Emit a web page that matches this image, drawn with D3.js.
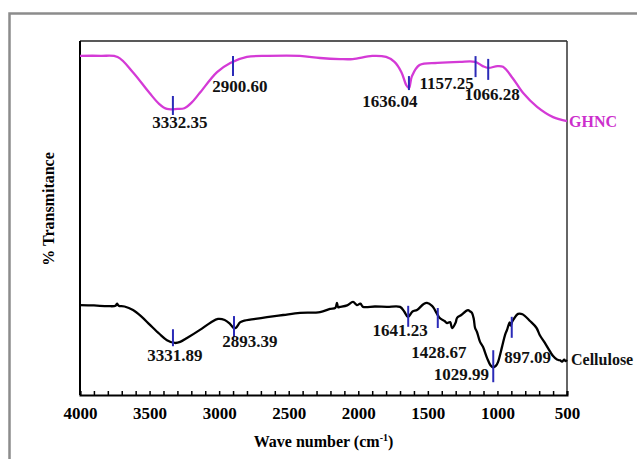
<!DOCTYPE html>
<html>
<head>
  <meta charset="utf-8">
  <title>FTIR spectra of GHNC and Cellulose</title>
  <script src="https://d3js.org/d3.v7.min.js"></script>
  <style>
    body { margin: 0; background: #fff; }
    text { font-family: "Liberation Serif", "Times New Roman", serif; font-weight: bold; }
    .line { fill: none; stroke-width: 2.3px; stroke-linejoin: round; }
  </style>
</head>
<body>
  <div id="chart"></div>

  <script>
    // x axis ticks (wave number, cm-1)
    const xTicks = d3.range(4000, 499, -100);
    const xLabels = [4000, 3500, 3000, 2500, 2000, 1500, 1000, 500];

    // GHNC spectrum, [wave number, % transmittance]
    const ghnc = [
      [4000, 95.8], [3850, 95.8], [3730, 95.5], [3620, 91.2], [3500, 85.3],
      [3430, 82.2], [3375, 80.8], [3300, 80.8], [3250, 81.0], [3200, 82.5],
      [3140, 85.3], [3015, 91.2], [2920, 93.8], [2800, 95.5], [2650, 95.8],
      [2420, 95.8], [2275, 95.2], [2130, 94.9], [2040, 94.9], [1900, 95.8],
      [1800, 95.5], [1740, 94.1], [1690, 91.2], [1655, 87.5], [1636, 86.7],
      [1615, 90.0], [1560, 93.2], [1430, 93.8], [1270, 94.1], [1160, 94.1],
      [1105, 92.9], [1066, 92.4], [1000, 92.9], [960, 92.7], [890, 89.5],
      [815, 85.3], [715, 81.4], [600, 78.5], [500, 77.4]
    ];

    // Cellulose spectrum, [wave number, % transmittance]
    const cellulose = [
      [4000, 25.4], [3900, 25.3], [3800, 25.1], [3745, 25.2], [3734, 25.8],
      [3722, 25.2], [3680, 25.0], [3619, 24.0], [3560, 22.2], [3497, 19.8],
      [3430, 17.3], [3375, 15.5], [3317, 14.7], [3280, 15.0], [3231, 16.1],
      [3138, 18.4], [3060, 20.5], [3008, 21.5], [2960, 21.2], [2922, 20.1],
      [2895, 18.9], [2879, 19.0], [2850, 20.5], [2828, 20.9], [2740, 21.5],
      [2656, 22.0], [2540, 22.6], [2419, 23.2], [2275, 23.4], [2203, 24.3],
      [2165, 24.6], [2153, 26.0], [2145, 24.8], [2131, 24.9], [2080, 25.3],
      [2038, 26.3], [2010, 25.4], [1985, 25.8], [1966, 24.9], [1880, 25.0],
      [1794, 24.9], [1700, 24.9], [1670, 23.6], [1643, 22.0], [1610, 23.6],
      [1578, 24.0], [1530, 25.7], [1506, 26.0], [1470, 25.2], [1449, 24.0],
      [1420, 22.0], [1406, 21.5], [1380, 20.9], [1362, 20.3], [1340, 20.6],
      [1326, 18.9], [1300, 20.5], [1290, 21.8], [1260, 22.6], [1230, 23.6],
      [1211, 24.0], [1195, 23.6], [1183, 23.2], [1170, 21.5], [1161, 19.0],
      [1147, 17.8], [1125, 15.0], [1104, 13.6], [1075, 10.5], [1050, 8.4],
      [1032, 7.8], [1010, 8.3], [996, 9.3], [967, 13.6], [945, 17.0],
      [931, 18.4], [912, 20.5], [905, 19.6], [895, 20.6], [880, 21.6],
      [852, 22.9], [820, 22.8], [766, 20.9], [720, 19.0], [694, 16.8],
      [660, 14.8], [622, 12.3], [600, 11.0], [572, 10.0], [550, 9.8],
      [536, 9.4], [520, 10.0], [510, 9.6], [500, 9.9]
    ];

    // peak labels
    const ghncPeaks = [3332.35, 2900.60, 1636.04, 1157.25, 1066.28];
    const cellulosePeaks = [3331.89, 2893.39, 1641.23, 1428.67, 1029.99, 897.09];

    const margin = {top: 41, right: 70, bottom: 64, left: 80},
          W = 637, H = 459,
          width = W - margin.left - margin.right,
          height = H - margin.top - margin.bottom;

    const svg = d3.select("#chart")
      .append("svg")
        .attr("width", W)
        .attr("height", H);

    // outer grey frame
    svg.append("rect")
      .attr("x", 9.5).attr("y", 13.5)
      .attr("width", W).attr("height", H)
      .attr("fill", "none")
      .attr("stroke", "#8c8c8c")
      .attr("stroke-width", 2.5);

    const g = svg.append("g")
      .attr("transform", `translate(${margin.left},${margin.top})`);

    const x = d3.scaleLinear().domain([4000, 500]).range([0, width]);
    const y = d3.scaleLinear().domain([0, 100]).range([height, 0]);

    // box
    g.append("line").attr("x1", 0).attr("x2", width).attr("y1", 0).attr("y2", 0)
      .attr("stroke", "#222").attr("stroke-width", 1.5);
    g.append("line").attr("x1", width).attr("x2", width).attr("y1", 0).attr("y2", height)
      .attr("stroke", "#333").attr("stroke-width", 1.5);
    g.append("line").attr("x1", 0).attr("x2", 0).attr("y1", 0).attr("y2", height)
      .attr("stroke", "#000").attr("stroke-width", 2);

    // X axis, inward ticks
    const xAxis = g.append("g")
      .attr("transform", `translate(0,${height})`)
      .call(d3.axisBottom(x)
        .tickValues(xTicks)
        .tickSize(-4)
        .tickPadding(12)
        .tickFormat(d => xLabels.includes(d) ? d : ""));
    xAxis.select(".domain").attr("stroke", "#000").attr("stroke-width", 2);
    xAxis.selectAll(".tick line").attr("stroke", "#000").attr("stroke-width", 1.5);
    xAxis.selectAll(".tick text")
      .attr("fill", "#000")
      .style("font-size", "17px")
      .style("font-family", "'Liberation Serif', serif")
      .style("font-weight", "bold");

    // lines
    const line = d3.line().curve(d3.curveCatmullRom.alpha(0.5))
      .x(d => x(d[0])).y(d => y(d[1]));
    g.append("path").datum(ghnc).attr("class", "line")
      .attr("stroke", "#d43ad6").attr("d", line);
    g.append("path").datum(cellulose).attr("class", "line")
      .attr("stroke", "#000").attr("d", line);

    // value on a curve at a wave number
    function valueAt(series, w) {
      for (let i = 0; i < series.length - 1; i++) {
        const a = series[i], b = series[i + 1];
        if (w <= a[0] && w >= b[0]) {
          const t = (a[0] - w) / (a[0] - b[0]);
          return a[1] + t * (b[1] - a[1]);
        }
      }
      return series[series.length - 1][1];
    }

    // marker extents (px above/below curve) and label offsets
    const ghncLayout = [
      {up: 13, down: 6, dx: 7, dy: 19},
      {up: 6, down: 14, dx: 7, dy: 30},
      {up: 12, down: 2, dx: -19, dy: 19},
      {up: 6, down: 15, dx: -29, dy: 27},
      {up: 9, down: 12, dx: 4, dy: 32}
    ];
    const celluloseLayout = [
      {up: 13, down: 4, dx: 2, dy: 19},
      {up: 12, down: 9, dx: 16, dy: 19},
      {up: 11, down: 10, dx: -8, dy: 19},
      {up: 7, down: 13, dx: 1, dy: 43},
      {up: 17, down: 15, dx: -32, dy: 13},
      {up: 6, down: 15, dx: 16, dy: 40}
    ];

    function drawPeaks(peaks, series, layout) {
      peaks.forEach((p, i) => {
        const px = x(p), py = y(valueAt(series, p)), l = layout[i];
        g.append("line")
          .attr("x1", px).attr("x2", px)
          .attr("y1", py - l.up).attr("y2", py + l.down)
          .attr("stroke", "#2b2bb8").attr("stroke-width", 2);
        g.append("text")
          .attr("x", px + l.dx).attr("y", py + l.dy)
          .attr("text-anchor", "middle")
          .style("font-size", "17px")
          .attr("fill", "#111")
          .text(p.toFixed(2));
      });
    }
    drawPeaks(ghncPeaks, ghnc, ghncLayout);
    drawPeaks(cellulosePeaks, cellulose, celluloseLayout);

    // series names
    g.append("text")
      .attr("x", width + 2).attr("y", y(ghnc[ghnc.length - 1][1]) + 6)
      .attr("fill", "#cc2fcc")
      .style("font-size", "16px")
      .text("GHNC");
    g.append("text")
      .attr("x", width + 4).attr("y", y(cellulose[cellulose.length - 1][1]) + 5)
      .attr("fill", "#111")
      .style("font-size", "16px")
      .text("Cellulose");

    // axis titles
    const xTitle = g.append("text")
      .attr("x", width / 2).attr("y", height + 52)
      .attr("text-anchor", "middle")
      .style("font-size", "16px")
      .text("Wave number (cm");
    xTitle.append("tspan").attr("dy", -6).style("font-size", "10px").text("-1");
    xTitle.append("tspan").attr("dy", 6).text(")");

    g.append("text")
      .attr("transform", "rotate(-90)")
      .attr("x", -height / 2 + 9)
      .attr("y", -margin.left + 54)
      .attr("text-anchor", "middle")
      .style("font-size", "16px")
      .text("% Transmitance");
  </script>
</body>
</html>
